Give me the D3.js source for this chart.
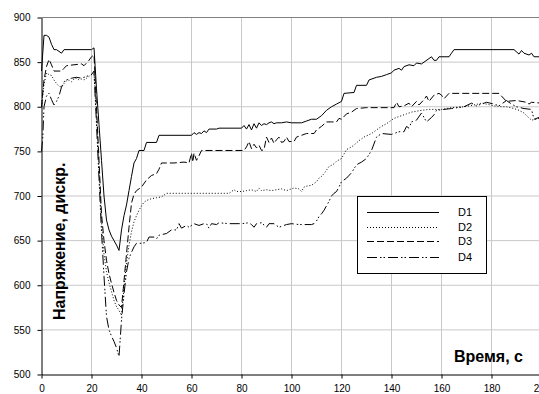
<!DOCTYPE html>
<html><head><meta charset="utf-8">
<script src="https://cdn.jsdelivr.net/npm/d3@7"></script>
<style>
html,body{margin:0;padding:0;background:#fff;overflow:hidden}
svg{display:block;font-family:"Liberation Sans",Arial,sans-serif}
</style></head>
<body>
<svg id="chart" width="539" height="394"></svg>
<script>
const xTicks = [0,20,40,60,80,100,120,140,160,180,200];
const yTicks = [500,550,600,650,700,750,800,850,900];
const seriesNames = ["D1","D2","D3","D4"];
const xTitle = "Время, с";
const yTitle = "Напряжение, дискр.";

const d1 = [[0,840],[1,880],[2,880],[3,878],[4,870],[5,864],[6,864],[7,862],[8,860],[9,864],[20,864],[21,866],[22,820],[23,780],[24,740],[25,700],[26,673],[27,662],[28,655],[29,650],[30,645],[31,639],[32,662],[33,678],[34,690],[35,706],[36,722],[37,737],[38,742],[39,751],[41,751],[42,760],[46,760],[47,768],[60,768],[61,771],[62,769],[63,771],[64,770],[65,773],[66,771],[67,775],[70,775],[71,776],[80,776],[81,779],[82,775],[83,780],[84,774],[85,781],[86,776],[87,782],[88,779],[89,781],[90,780],[91,782],[92,783],[93,781],[94,782],[96,782],[98,783],[100,782],[104,782],[106,784],[108,786],[110,786],[112,790],[114,796],[116,800],[118,803],[120,806],[121,815],[125,816],[126,824],[130,824],[131,830],[134,833],[136,834],[138,836],[140,838],[141,841],[143,843],[144,841],[145,845],[147,847],[149,846],[150,849],[152,848],[153,850],[155,854],[156,856],[157,852],[158,852],[159,856],[163,856],[164,860],[165,864],[189,864],[191,859],[192,863],[193,860],[195,858],[196,860],[197,856],[200,856]];

const d2 = [[0,800],[1,825],[2,838],[3,836],[4,835],[5,830],[6,826],[7,823],[8,822],[9,826],[10,829],[11,830],[12,828],[13,831],[14,832],[15,830],[16,831],[17,830],[18,832],[19,834],[20,836],[21,837],[22,790],[23,730],[24,670],[25,635],[26,615],[27,603],[28,593],[29,583],[30,576],[31,572],[32,566],[33,598],[34,625],[35,645],[36,660],[37,671],[38,678],[39,684],[40,689],[41,693],[42,695],[44,697],[46,698],[48,699],[50,703],[75,703],[76,705],[77,707],[78,705],[80,705],[82,706],[84,707],[86,705],[87,709],[88,706],[90,707],[92,706],[94,707],[96,708],[98,706],[100,708],[101,709],[103,708],[104,705],[105,710],[106,711],[108,712],[109,714],[110,716],[111,720],[112,722],[113,725],[114,729],[115,733],[117,736],[118,739],[120,742],[122,752],[124,755],[125,757],[127,762],[129,766],[132,770],[134,774],[136,778],[138,781],[141,787],[144,790],[146,792],[148,794],[150,795],[152,796],[155,797],[160,797],[164,799],[169,800],[173,802],[176,804],[178,803],[181,801],[184,800],[186,800],[189,798],[191,796],[193,793],[194,790],[196,785],[198,786],[200,788]];

const d3s = [[0,800],[1,830],[2,845],[3,853],[4,847],[5,840],[8,840],[9,843],[10,846],[13,847],[16,848],[17,846],[18,849],[19,852],[20,856],[21,858],[22,800],[23,740],[24,680],[25,650],[26,628],[27,613],[28,602],[29,592],[30,583],[31,578],[32,575],[33,605],[34,635],[35,665],[36,692],[37,702],[38,706],[40,710],[42,718],[44,723],[46,725],[47,730],[48,737],[50,737],[53,737],[57,738],[59,737],[60,748],[60.5,738],[61,748],[62,740],[63,745],[64,751],[81,751],[82,755],[83,761],[84,753],[85,758],[86,754],[87,757],[88,751],[89,752],[90,766],[91,760],[92,765],[93,759],[94,763],[95,766],[96,760],[97,761],[98,766],[99,761],[101,761],[102,766],[104,768],[106,770],[109,770],[110,774],[112,778],[114,783],[116,783],[118,783],[119,787],[120,786],[122,792],[124,794],[126,798],[130,799],[141,799],[142,805],[143,800],[145,801],[147,804],[148,800],[150,806],[151,802],[153,808],[154,812],[155,806],[157,813],[159,815],[160,813],[161,809],[163,815],[183,815],[184,812],[186,806],[190,807],[194,805],[195,803],[196,805],[200,804]];

const d4 = [[0,750],[0.5,765],[1,800],[2,812],[3,815],[4,808],[5,802],[6,806],[7,812],[8,822],[9,828],[10,830],[12,832],[14,833],[16,832],[18,834],[20,836],[21,840],[22,780],[23,720],[24,660],[25,610],[26,565],[27,550],[28,543],[29,537],[30,530],[31,520],[32,561],[33,590],[34,615],[35,630],[36,637],[37,643],[38,647],[40,647],[42,648],[43,654],[45,654],[46,652],[47,656],[50,658],[52,662],[54,662],[55,669],[56,664],[58,667],[59,665],[61,669],[63,667],[65,669],[66,669],[67,664],[68,669],[70,668],[71,670],[75,669],[80,669],[83,670],[84,668],[85,665],[86,669],[88,670],[90,665],[91,669],[93,669],[95,665],[96,666],[98,668],[100,669],[103,668],[108,668],[109,669],[110,672],[111,677],[112,680],[113,684],[114,689],[115,694],[116,700],[117,703],[118,705],[119,710],[120,716],[122,720],[124,726],[126,735],[128,738],[130,742],[132,751],[134,766],[136,770],[140,769],[143,772],[145,772],[146,778],[147,776],[148,783],[150,785],[152,793],[153,788],[154,783],[156,788],[157,791],[158,796],[161,797],[164,798],[169,800],[172,804],[174,801],[178,805],[181,803],[183,801],[186,807],[188,803],[190,800],[193,798],[196,797],[197,786],[199,788],[200,786]];

const seriesData = [d1, d2, d3s, d4];
const dashes = [null, "1,2", "7,3", "10,3,1.5,2,1.5,3"];

const svg = d3.select("#chart");
const x = d3.scaleLinear().domain([0,200]).range([41.5,541.5]);
const y = d3.scaleLinear().domain([500,900]).range([374.5,17.5]);

// gridlines
const grid = svg.append("g");
grid.selectAll("line.v").data(xTicks.filter(t=>t>0)).join("line")
  .attr("x1",d=>x(d)).attr("x2",d=>x(d)).attr("y1",y(900)).attr("y2",y(500))
  .attr("stroke","#c8c8c8").attr("stroke-width",1);
grid.selectAll("line.h").data(yTicks.filter(t=>t>500 && t<900)).join("line")
  .attr("x1",x(0)).attr("x2",x(200)).attr("y1",d=>y(d)).attr("y2",d=>y(d))
  .attr("stroke","#c8c8c8").attr("stroke-width",1);
// top frame
svg.append("line").attr("x1",x(0)).attr("x2",x(200)).attr("y1",y(900)).attr("y2",y(900))
  .attr("stroke","#808080").attr("stroke-width",1);

// series
const line = d3.line().x(d=>x(d[0])).y(d=>y(d[1]));
seriesData.forEach((s,i)=>{
  svg.append("path").datum(s).attr("d",line)
    .attr("fill","none").attr("stroke","#000").attr("stroke-width",1)
    .attr("stroke-dasharray",dashes[i]);
});

// axes
const yAxis = svg.append("g").attr("transform",`translate(${x(0)},0)`)
  .call(d3.axisLeft(y).tickValues(yTicks).tickSize(4).tickSizeOuter(0).tickPadding(7));
const xAxis = svg.append("g").attr("transform",`translate(0,${y(500)})`)
  .call(d3.axisBottom(x).tickValues(xTicks).tickSize(4).tickSizeOuter(0).tickPadding(6));
[yAxis,xAxis].forEach(a=>{
  a.selectAll("text").attr("font-size","10px").attr("fill","#000")
    .attr("font-family","'Liberation Sans',Arial,sans-serif");
  a.selectAll("line").attr("stroke","#000");
  a.select(".domain").attr("stroke","#000");
});

// titles
svg.append("text").text(xTitle).attr("x",523).attr("y",362)
  .attr("text-anchor","end").attr("font-size","16px").attr("font-weight","bold").attr("fill","#000");
svg.append("text").text(yTitle).attr("transform","translate(65,320) rotate(-90)")
  .attr("text-anchor","start").attr("font-size","16px").attr("font-weight","bold").attr("fill","#000");

// legend
const lg = svg.append("g");
lg.append("rect").attr("x",357.5).attr("y",196.5).attr("width",129).attr("height",77)
  .attr("fill","#fff").attr("stroke","#000").attr("stroke-width",1);
const rowsY = [212,227,241,257];
seriesNames.forEach((n,i)=>{
  lg.append("line").attr("x1",367).attr("x2",439).attr("y1",rowsY[i]+0.5).attr("y2",rowsY[i]+0.5)
    .attr("stroke","#000").attr("stroke-width",1).attr("stroke-dasharray",dashes[i]);
  lg.append("text").text(n).attr("x",458).attr("y",rowsY[i]).attr("dy","0.35em")
    .attr("font-size","11px").attr("fill","#000");
});
</script>
</body></html>
